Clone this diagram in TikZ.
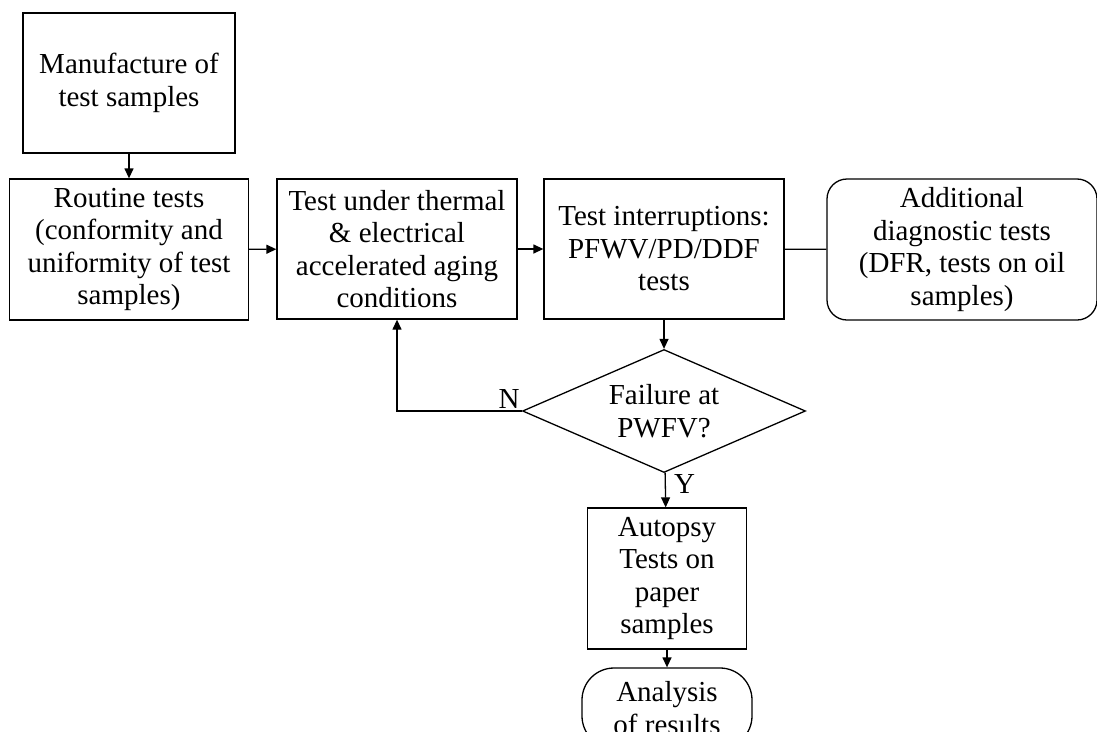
\documentclass[tikz,border=0pt]{standalone}
\usepackage{fontspec}
\setmainfont{Liberation Serif}
\usetikzlibrary{shapes.geometric,arrows.meta}
\begin{document}
\begin{tikzpicture}[x=1pt,y=-1pt,
  txt/.style={inner sep=0pt,align=center,font=\fontsize{29}{32.5}\selectfont},
  box/.style={txt,draw,line width=1.3pt},
  arr/.style={line width=1.3pt,-{Triangle[length=10pt,width=9pt]}},
  conn/.style={line width=1.3pt}]
\useasboundingbox (0,0) rectangle (1097,731);
\clip (0,0) rectangle (1097,731);
\node[box,minimum width=212pt,minimum height=140pt] (m) at (129,83) {Manufacture of\\test samples};
\node[box,minimum width=239pt,minimum height=141pt] (r) at (129,249.5) {Routine tests\\(conformity and\\uniformity of test\\samples)};
\node[box,minimum width=240pt,minimum height=140pt] (t) at (397,249) {Test under thermal\\\& electrical\\accelerated aging\\conditions};
\node[box,minimum width=240pt,minimum height=140pt] (i) at (664,249) {Test interruptions:\\PFWV/PD/DDF\\tests};
\node[box,rounded corners=20pt,minimum width=270pt,minimum height=141pt] (a) at (962,249.5) {Additional\\diagnostic tests\\(DFR, tests on oil\\samples)};
\node[box,diamond,aspect=2.3,minimum width=283pt,minimum height=123pt] (d) at (664,411) {Failure at\\PWFV?};
\node[box,minimum width=159pt,minimum height=141pt] (p) at (667,578.5) {Autopsy\\Tests on\\paper\\samples};
\node[box,rounded corners=32pt,minimum width=170pt,minimum height=80pt] (s) at (667,708) {Analysis\\of results};
\draw[arr] (m) -- (r);
\draw[arr] (r) -- (t);
\draw[arr] (t) -- (i);
\draw[conn] (i) -- (a);
\draw[arr] (i) -- (d);
\draw[arr] (d.west) -| (t.south);
\draw[arr] (d) -- (p);
\draw[arr] (p) -- (s);
\node[txt,anchor=south east,inner sep=2pt] (n) at (d.west) {N};
\node[txt,anchor=north west,inner sep=1pt] (y) at ([xshift=9pt]d.south) {Y};
\end{tikzpicture}
\end{document}
